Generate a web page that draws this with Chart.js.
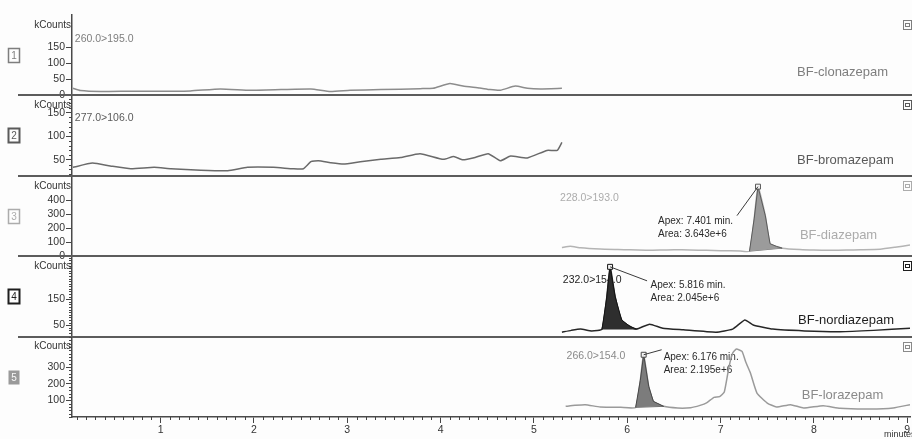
<!DOCTYPE html>
<html lang="en">
  <head>
    <meta charset="UTF-8" />
    <title>BF benzodiazepine MRM chromatograms</title>
    <style>
      body {
        margin: 0;
        background: #fdfdfd;
      }
      #wrap {
        width: 912px;
        height: 439px;
      }
    </style>
  </head>
  <body>
    <div id="wrap"><canvas id="chrom" width="912" height="439"></canvas></div>

    <script src="https://cdn.jsdelivr.net/npm/chart.js"></script>
    <script>
      // x axis: retention time in minutes
      const xTickMinutes = [1, 2, 3, 4, 5, 6, 7, 8, 9];

      const compounds = ['BF-clonazepam', 'BF-bromazepam', 'BF-diazepam', 'BF-nordiazepam', 'BF-lorazepam'];
      const transitions = ['260.0>195.0', '277.0>106.0', '228.0>193.0', '232.0>154.0', '266.0>154.0'];

      // traces (minutes / kCounts)
      const clonazepamMin = [0.06, 0.14, 0.36, 0.68, 1.0, 1.32, 1.64, 1.96, 2.29, 2.61, 2.82, 3.03, 3.36, 3.78, 3.92, 4.10, 4.24, 4.42, 4.53, 4.64, 4.80, 4.93, 5.07, 5.30];
      const clonazepamK = [22, 15, 12, 13, 13, 14, 20, 16, 18, 20, 12, 16, 18, 21, 22, 37, 29, 23, 18, 16, 29, 22, 20, 22];

      const bromazepamMin = [0.06, 0.27, 0.46, 0.68, 0.93, 1.11, 1.43, 1.72, 1.93, 2.21, 2.42, 2.53, 2.61, 2.69, 2.82, 2.96, 3.14, 3.36, 3.57, 3.78, 4.03, 4.14, 4.24, 4.37, 4.51, 4.64, 4.75, 4.93, 5.14, 5.25, 5.30];
      const bromazepamK = [34, 43, 37, 31, 34, 31, 28, 27, 34, 34, 31, 31, 46, 48, 44, 41, 46, 51, 55, 63, 51, 57, 50, 55, 63, 48, 58, 54, 70, 70, 87];

      const diazepamMin = [5.30, 5.39, 5.50, 5.71, 5.90, 6.03, 6.20, 6.35, 6.50, 6.67, 6.85, 7.00, 7.21, 7.31, 7.36, 7.401, 7.48, 7.53, 7.60, 7.66, 7.85, 8.00, 8.17, 8.35, 8.50, 8.71, 8.87, 9.03];
      const diazepamK = [62, 72, 60, 51, 48, 46, 43, 44, 46, 45, 42, 40, 38, 36, 268, 500, 290, 90, 70, 58, 48, 44, 42, 44, 46, 50, 64, 80];

      const nordiazepamMin = [5.30, 5.40, 5.50, 5.62, 5.73, 5.78, 5.816, 5.87, 5.94, 6.03, 6.10, 6.24, 6.38, 6.60, 6.95, 7.13, 7.26, 7.35, 7.56, 7.90, 8.28, 8.64, 9.03];
      const nordiazepamK = [23, 30, 35, 28, 35, 155, 275, 160, 70, 45, 35, 54, 38, 32, 23, 35, 70, 51, 35, 28, 25, 30, 38];

      const lorazepamMin = [5.34, 5.44, 5.55, 5.71, 5.93, 6.09, 6.14, 6.176, 6.23, 6.28, 6.39, 6.54, 6.68, 6.78, 6.85, 6.93, 6.99, 7.04, 7.09, 7.13, 7.17, 7.23, 7.27, 7.32, 7.39, 7.50, 7.60, 7.75, 7.89, 8.10, 8.28, 8.60, 8.85, 9.03];
      const lorazepamK = [64, 70, 74, 60, 58, 58, 220, 374, 184, 94, 64, 54, 56, 70, 85, 118, 122, 150, 300, 385, 408, 394, 330, 264, 144, 84, 60, 74, 54, 68, 52, 48, 54, 74];

      // integrated peaks
      const peakStart = [null, null, 7.31, 5.73, 6.09];
      const peakEnd = [null, null, 7.66, 6.10, 6.39];
      const apexMin = [null, null, 7.401, 5.816, 6.176];
      const peakArea = [null, null, '3.643e+6', '2.045e+6', '2.195e+6'];

      // y axes (kCounts)
      const yTickValues = [[0, 50, 100, 150], [50, 100, 150], [0, 100, 200, 300, 400], [50, 150], [100, 200, 300]];
      const yMin = [0, 16, 0, 6, 0];
      const yMax = [250, 187, 578, 316, 483];
      const yMinorStep = [0, 10, 0, 10, 20];

      const traceMin = [clonazepamMin, bromazepamMin, diazepamMin, nordiazepamMin, lorazepamMin];
      const traceK = [clonazepamK, bromazepamK, diazepamK, nordiazepamK, lorazepamK];

      // look of each panel
      const lineColor = ['#8c8c8c', '#6a6a6a', '#b4b4b4', '#262626', '#9a9a9a'];
      const textColor = ['#7e7e7e', '#5a5a5a', '#acacac', '#1e1e1e', '#8a8a8a'];
      const peakFill = [null, null, '#9b9b9b', '#2e2e2e', '#7c7c7c'];
      const peakEdge = [null, null, '#5a5a5a', '#141414', '#474747'];
      // label anchors: [minutes, px below panel top]
      const mrmAt = [[0.08, 24], [0.08, 23], [5.28, 22], [5.31, 24], [5.35, 20]];
      const nameAt = [[7.82, 57], [7.82, 65], [7.85, 60], [7.83, 64], [7.87, 59]];
      const apexTextAt = [null, null, [6.33, 45], [6.25, 29], [6.39, 21]];
      const leaderTo = [null, null, [-21, 29], [37, 14], [18, -5]];

      const FONT = '"Liberation Sans", Arial, sans-serif';
      Chart.defaults.font.family = FONT;
      Chart.defaults.color = '#333';

      const datasets = [];
      for (let i = 0; i < 5; i++) {
        datasets.push({
          label: compounds[i],
          data: traceMin[i].map((t, k) => ({ x: t, y: traceK[i][k] })),
          yAxisID: 'y' + i,
          borderColor: lineColor[i],
          borderWidth: 1.5,
          pointRadius: 0,
          tension: 0.15,
          fill: false,
          order: 3,
        });
      }
      for (let i = 0; i < 5; i++) {
        if (peakStart[i] == null) continue;
        const pts = traceMin[i]
          .map((t, k) => ({ x: t, y: traceK[i][k] }))
          .filter((p) => p.x >= peakStart[i] && p.x <= peakEnd[i]);
        const baseIndex = datasets.length + 1;
        const apex = apexMin[i];
        datasets.push({
          label: compounds[i] + ' peak',
          data: pts,
          yAxisID: 'y' + i,
          borderColor: peakEdge[i],
          backgroundColor: peakFill[i],
          borderWidth: 1,
          tension: 0,
          fill: { target: baseIndex, above: peakFill[i], below: peakFill[i] },
          pointStyle: 'rect',
          pointRadius: (c) => (c.raw && c.raw.x === apex ? 3.5 : 0),
          pointBackgroundColor: '#f4f4f4',
          pointBorderColor: peakEdge[i],
          pointBorderWidth: 1,
          order: 0,
        });
        datasets.push({
          label: compounds[i] + ' baseline',
          data: [pts[0], pts[pts.length - 1]],
          yAxisID: 'y' + i,
          borderColor: peakEdge[i],
          borderWidth: 0.8,
          pointRadius: 0,
          fill: false,
          order: 1,
        });
      }

      const scales = {
        x: {
          type: 'linear',
          min: 0.05,
          max: 9.03,
          afterBuildTicks: (s) => {
            s.ticks = xTickMinutes.map((v) => ({ value: v }));
          },
          afterFit: (s) => {
            s.height = 22;
          },
          grid: { drawOnChartArea: false, tickLength: 6, tickColor: '#444', tickWidth: 1 },
          border: { color: '#4a4a4a', width: 1.5 },
          ticks: { font: { size: 10.5 }, color: '#333', padding: 1, maxRotation: 0, autoSkip: false },
        },
      };
      for (let i = 0; i < 5; i++) {
        scales['y' + i] = {
          type: 'linear',
          position: 'left',
          stack: 'panels',
          stackWeight: 1,
          weight: 5 - i,
          min: yMin[i],
          max: yMax[i],
          afterBuildTicks: (s) => {
            s.ticks = yTickValues[i].map((v) => ({ value: v }));
          },
          afterFit: (s) => {
            s.width = 72;
          },
          grid: { drawOnChartArea: false, tickLength: 6, tickColor: '#444', tickWidth: 1 },
          border: { color: '#4a4a4a', width: 1.5 },
          ticks: { font: { size: 10.5 }, color: '#333', padding: 1, autoSkip: false },
        };
      }

      function drawBox(ctx, i, x, y) {
        ctx.save();
        ctx.font = '10px ' + FONT;
        ctx.textAlign = 'center';
        ctx.textBaseline = 'middle';
        if (i === 4) {
          ctx.fillStyle = '#9a9a9a';
          ctx.fillRect(x, y, 11, 14);
          ctx.fillStyle = '#fafafa';
        } else {
          ctx.strokeStyle = textColor[i];
          ctx.lineWidth = i === 1 || i === 3 ? 2 : 1.5;
          ctx.strokeRect(x, y, 11, 14);
          ctx.fillStyle = textColor[i];
        }
        ctx.fillText(String(i + 1), x + 5.5, y + 7.5);
        ctx.restore();
      }

      const panelDeco = {
        id: 'panelDeco',
        beforeDatasetsDraw(chart) {
          const ctx = chart.ctx;
          const xs = chart.scales.x;
          ctx.save();
          ctx.textAlign = 'left';
          ctx.textBaseline = 'middle';
          for (let i = 0; i < 5; i++) {
            const s = chart.scales['y' + i];
            ctx.fillStyle = textColor[i];
            ctx.font = '10.5px ' + FONT;
            ctx.fillText(transitions[i], xs.getPixelForValue(mrmAt[i][0]), s.top + mrmAt[i][1]);
            ctx.font = '13px ' + FONT;
            ctx.fillText(compounds[i], xs.getPixelForValue(nameAt[i][0]), s.top + nameAt[i][1]);
            if (apexMin[i] != null) {
              const ax = xs.getPixelForValue(apexTextAt[i][0]);
              const ay = s.top + apexTextAt[i][1];
              ctx.fillStyle = '#2a2a2a';
              ctx.font = '10px ' + FONT;
              ctx.fillText('Apex: ' + apexMin[i].toFixed(3) + ' min.', ax, ay);
              ctx.fillText('Area: ' + peakArea[i], ax, ay + 13);
            }
          }
          ctx.restore();
        },
        afterDraw(chart) {
          const ctx = chart.ctx;
          const xs = chart.scales.x;
          ctx.save();

          // minor ticks on the time axis
          ctx.strokeStyle = '#444';
          ctx.lineWidth = 1;
          ctx.beginPath();
          for (let k = 1; k <= 90; k++) {
            if (k % 10 === 0) continue;
            const px = Math.round(xs.getPixelForValue(k / 10)) + 0.5;
            ctx.moveTo(px, xs.top);
            ctx.lineTo(px, xs.top + 3);
          }
          ctx.stroke();

          for (let i = 0; i < 5; i++) {
            const s = chart.scales['y' + i];
            // minor ticks
            if (yMinorStep[i]) {
              ctx.beginPath();
              for (let v = Math.ceil(yMin[i] / yMinorStep[i]) * yMinorStep[i]; v <= yMax[i]; v += yMinorStep[i]) {
                if (yTickValues[i].includes(v)) continue;
                const py = Math.round(s.getPixelForValue(v)) + 0.5;
                ctx.moveTo(s.right - 3, py);
                ctx.lineTo(s.right, py);
              }
              ctx.strokeStyle = '#444';
              ctx.stroke();
            }
            // panel separators
            if (i < 4) {
              ctx.strokeStyle = '#5c5c5c';
              ctx.lineWidth = 2;
              ctx.beginPath();
              ctx.moveTo(18, Math.round(s.bottom));
              ctx.lineTo(chart.width, Math.round(s.bottom));
              ctx.stroke();
              ctx.lineWidth = 1;
            }
            // kCounts
            ctx.fillStyle = '#333';
            ctx.font = '10px ' + FONT;
            ctx.textAlign = 'right';
            ctx.textBaseline = 'middle';
            ctx.fillText('kCounts', 71, s.top + 10);
            // panel number
            drawBox(ctx, i, 8.5, Math.round(s.top + 33) + 0.5);
            // small icon top right
            ctx.strokeStyle = textColor[i];
            ctx.lineWidth = 1;
            ctx.strokeRect(903.5, Math.round(s.top + 5) + 0.5, 8, 9);
            ctx.strokeRect(905.5, Math.round(s.top + 8) + 0.5, 4, 3);
            // leader line from apex to its label
            if (apexMin[i] != null) {
              const k = traceMin[i].indexOf(apexMin[i]);
              const px = xs.getPixelForValue(apexMin[i]);
              const py = s.getPixelForValue(traceK[i][k]);
              ctx.strokeStyle = '#3a3a3a';
              ctx.beginPath();
              ctx.moveTo(px, py);
              ctx.lineTo(px + leaderTo[i][0], py + leaderTo[i][1]);
              ctx.stroke();
            }
          }

          ctx.fillStyle = '#333';
          ctx.font = '9px ' + FONT;
          ctx.textAlign = 'left';
          ctx.textBaseline = 'middle';
          ctx.fillText('minutes', 884, 435);
          ctx.restore();
        },
      };

      new Chart(document.getElementById('chrom'), {
        type: 'line',
        data: { datasets: datasets },
        options: {
          responsive: false,
          animation: false,
          layout: { padding: { top: 15, right: 2, bottom: 0, left: 0 } },
          plugins: { legend: { display: false }, tooltip: { enabled: false } },
          scales: scales,
        },
        plugins: [panelDeco],
      });
    </script>
  </body>
</html>
